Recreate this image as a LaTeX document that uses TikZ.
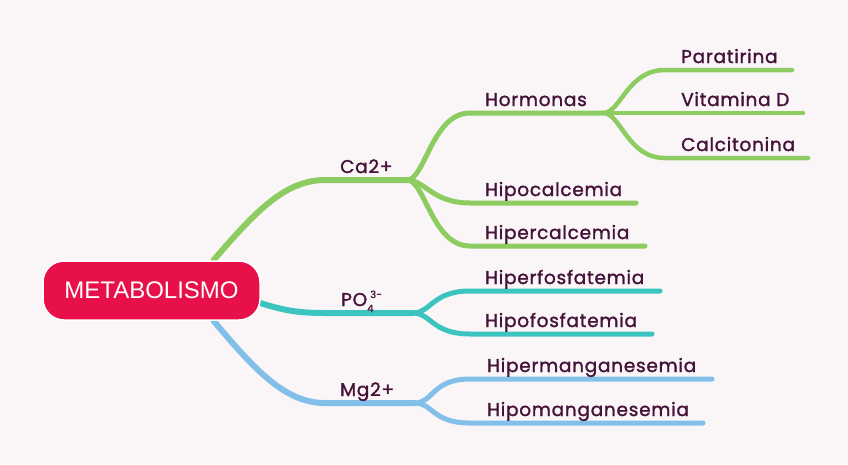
\documentclass[tikz,border=0pt]{standalone}
\usepackage{fontspec}
\setmainfont{Poppins}[LetterSpace=4,FakeBold=1.5]
\newfontfamily\rootfont{Liberation Sans}
\usetikzlibrary{calc,backgrounds}
\definecolor{bg}{HTML}{FAF6F8}
\definecolor{crim}{HTML}{E81048}
\definecolor{ink}{HTML}{45133A}
\definecolor{grn}{HTML}{8CCC60}
\definecolor{tea}{HTML}{3CC4C0}
\definecolor{blu}{HTML}{82C0EA}
\tikzset{
 lbl/.style={anchor=base west,inner sep=0pt,text=ink,font=\fontsize{18.5}{20}\selectfont},
 br/.style={line width=#1,line cap=round},
 br/.default=5pt
}
\begin{document}
\begin{tikzpicture}[x=1pt,y=-1pt]
\useasboundingbox(0,0)rectangle(848,464);
\node[draw=white,line width=1.5pt,fill=crim,rounded corners=21pt,minimum width=217pt,minimum height=59pt,text=white,font=\rootfont\fontsize{24}{26}\selectfont](root)at(151.5,290.5){METABOLISMO};
\coordinate(ca)at(407,180);\coordinate(hor)at(603,113);\coordinate(po)at(413,313);\coordinate(mg)at(415,403);
\begin{scope}[on background layer]
\fill[bg](0,0)rectangle(848,464);
\draw[grn,br=6pt]($(root.north)+(62,0)$)..controls(255,212)and(285,180)..(325,180)--(ca);
\draw[grn,br](ca)..controls+(18,0)and+(-38,0)..(470,113)--(hor);
\draw[grn,br](ca)..controls+(18,0)and+(-38,0)..(470,203)--(636,203);
\draw[grn,br](ca)..controls+(18,0)and+(-38,0)..(470,246)--(645,246);
\draw[grn,br=4.5pt](hor)..controls+(18,0)and+(-38,0)..(665,70)--(792,70);
\draw[grn,br=4.5pt](hor)--(803,113);
\draw[grn,br=4.5pt](hor)..controls+(18,0)and+(-38,0)..(665,158)--(808,158);
\draw[tea,br=6pt]($(root.east)+(-2,12)$)..controls(285,311)and(300,313)..(325,313)--(po);
\draw[tea,br](po)..controls+(18,0)and+(-38,0)..(470,291)--(660,291);
\draw[tea,br](po)..controls+(18,0)and+(-38,0)..(470,334)--(652,334);
\draw[blu,br=6pt]($(root.south)+(62,0)$)..controls(255,370)and(285,403)..(325,403)--(mg);
\draw[blu,br](mg)..controls+(18,0)and+(-38,0)..(470,379)--(712,379);
\draw[blu,br](mg)..controls+(18,0)and+(-38,0)..(470,423)--(703,423);
\end{scope}
\node[lbl](cal)at(340,173){Ca2+};
\node[lbl](horl)at(485,106){Hormonas};
\node[lbl](par)at(681,63){Paratirina};
\node[lbl](vit)at(681,106){Vitamina D};
\node[lbl](cac)at(681,151){Calcitonina};
\node[lbl](hipoc)at(485,196){Hipocalcemia};
\node[lbl](hiperc)at(485,239){Hipercalcemia};
\node[lbl](pol)at(341,306){PO\rlap{\raisebox{-6pt}{\fontsize{10}{10}\selectfont 4}}\kern3pt\raisebox{8pt}{\fontsize{10}{10}\selectfont 3-}};
\node[lbl](hiperf)at(485,284){Hiperfosfatemia};
\node[lbl](hipof)at(485,327){Hipofosfatemia};
\node[lbl](mgl)at(340,396){Mg2+};
\node[lbl](hiperm)at(487,372){Hipermanganesemia};
\node[lbl](hipom)at(487,416){Hipomanganesemia};
\end{tikzpicture}
\end{document}
